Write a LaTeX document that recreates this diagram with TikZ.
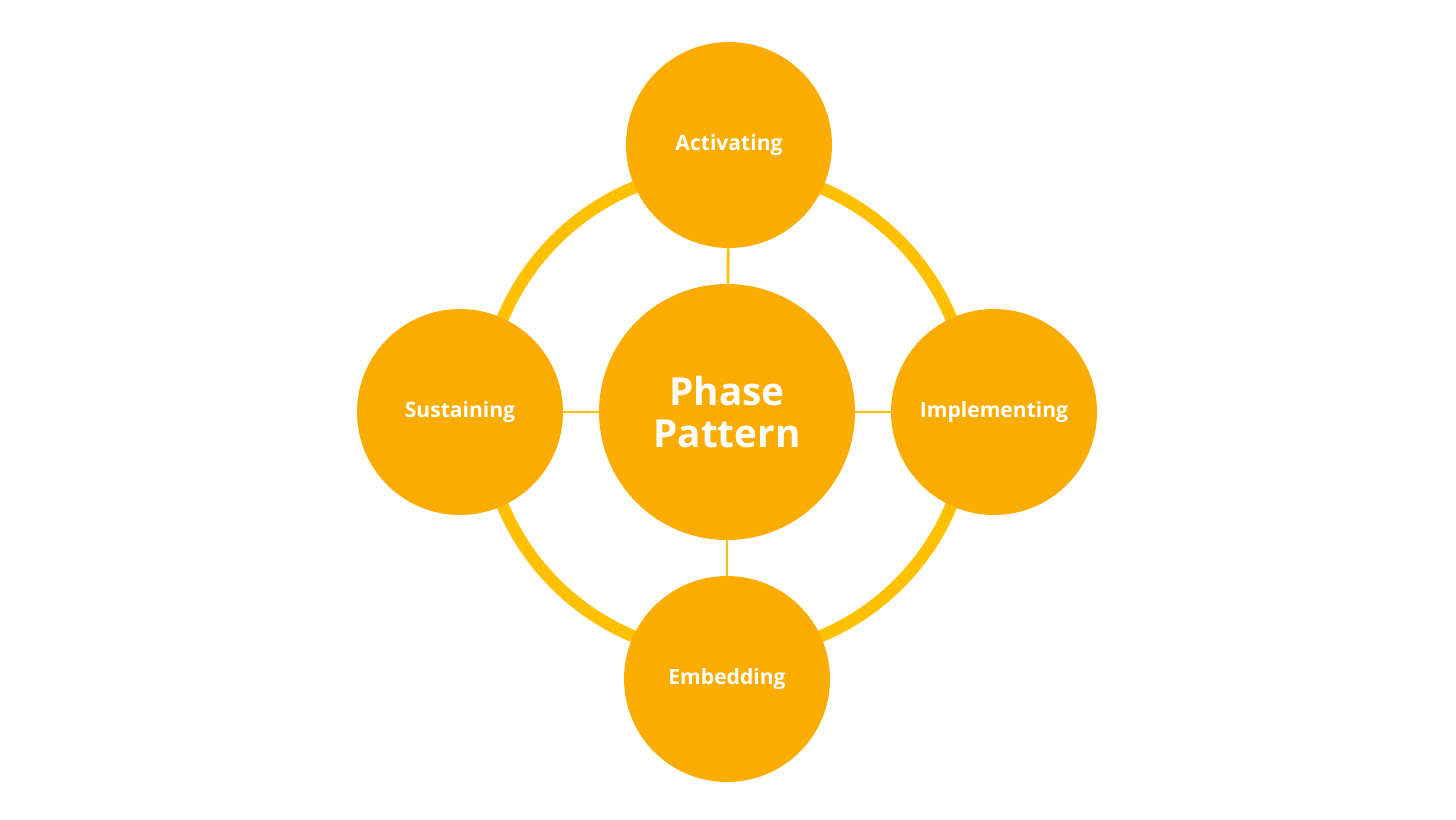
\documentclass[tikz,border=0pt]{standalone}
\usepackage{fontspec}
\setmainfont{Open Sans}
\usepackage{xcolor}
\usetikzlibrary{backgrounds}
\definecolor{phaseorange}{HTML}{FBAC00}
\definecolor{ringgold}{HTML}{FFC000}
\begin{document}
\begin{tikzpicture}[x=0.02cm,y=-0.02cm,
				phase/.style={circle,fill=phaseorange,draw=none,minimum size=4.12cm,inner sep=0pt,text=white,font=\fontsize{12}{14}\selectfont\bfseries},
				hub/.style={phase,minimum size=5.12cm,align=center,font=\fontsize{22}{24}\selectfont\bfseries},
				link/.style={ringgold,line width=1.6pt}]
				\useasboundingbox (0,0) rectangle (1456,819);
				\node [hub] (pattern) at (727,412) {Phase\\Pattern};
				\node [phase] (activating) at (729,145) {Activating};
				\node [phase] (implementing) at (994,412) {Implementing};
				\node [phase] (embedding) at (727,679) {Embedding};
				\node [phase] (sustaining) at (460,412) {Sustaining};
				\begin{scope}[on background layer]
				\draw [ringgold,line width=7pt] (pattern.center) circle (4.86cm);
				\end{scope}
				\draw [link] (activating) -- (pattern);
				\draw [link] (implementing) -- (pattern);
				\draw [link] (embedding) -- (pattern);
				\draw [link] (sustaining) -- (pattern);
\end{tikzpicture}
\end{document}
